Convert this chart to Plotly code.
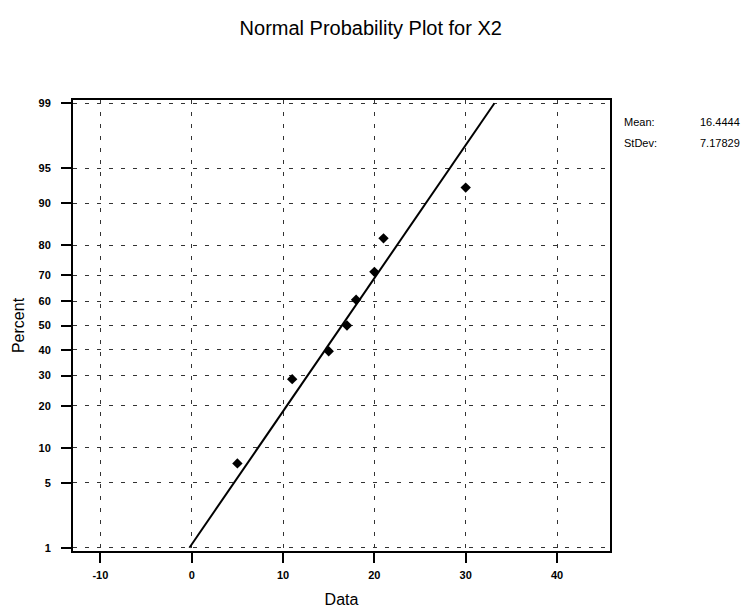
import statistics
import plotly.graph_objects as go

# Data
data_values = [5, 11, 11, 15, 17, 18, 20, 21, 30]
percent_ticks = [1, 5, 10, 20, 30, 40, 50, 60, 70, 80, 90, 95, 99]
x_ticks = [-10, 0, 10, 20, 30, 40]

nd = statistics.NormalDist()
n = len(data_values)
xs = sorted(data_values)
# median ranks, ties plotted at highest rank
pts_x, pts_p = [], []
for i, v in enumerate(xs):
    if i + 1 < n and xs[i + 1] == v:
        continue
    pts_x.append(v)
    pts_p.append((i + 1 - 0.3) / (n + 0.4) * 100)

mean = statistics.mean(data_values)
sd = statistics.stdev(data_values)

def z(p):
    return nd.inv_cdf(p / 100.0)

line_p = [1, 99]
line_x = [mean + sd * z(p) for p in line_p]

fig = go.Figure()
fig.add_trace(go.Scatter(x=line_x, y=[z(p) for p in line_p], mode="lines",
                         line=dict(color="black", width=2), showlegend=False))
fig.add_trace(go.Scatter(x=pts_x, y=[z(p) for p in pts_p], mode="markers",
                         marker=dict(symbol="diamond", color="black", size=8),
                         showlegend=False))

font = "Liberation Sans, Arial, sans-serif"
L, R, T, B = 73, 610, 100, 551
grid_dash = "4px,8px"
fig.update_layout(
    width=746, height=615,
    margin=dict(l=L, r=746 - R, t=T, b=615 - B, autoexpand=False),
    paper_bgcolor="white", plot_bgcolor="white",
    title=dict(text="Normal Probability Plot for X2", x=0.497, xanchor="center",
               y=1 - 28 / 615, yanchor="middle",
               font=dict(family=font, size=20, color="black")),
    font=dict(family=font, color="black"),
    xaxis=dict(range=[-13, 45.8], tickvals=x_ticks, ticktext=[str(t) for t in x_ticks],
               automargin=False,
               showgrid=True, gridcolor="#333", griddash=grid_dash, gridwidth=1,
               zeroline=False, showline=True, linecolor="black", linewidth=2, mirror=True,
               ticks="outside", ticklen=10, tickwidth=2, tickcolor="black",
               ticklabelstandoff=3,
               tickfont=dict(size=11, family=font, color="black", weight="bold"),
               title=dict(text="Data", font=dict(size=16, family=font), standoff=14)),
    yaxis=dict(range=[-2.36, 2.36], tickvals=[z(p) for p in percent_ticks],
               ticktext=[str(p) for p in percent_ticks],
               automargin=False,
               showgrid=True, gridcolor="#333", griddash=grid_dash, gridwidth=1,
               zeroline=False, showline=True, linecolor="black", linewidth=2, mirror=True,
               ticks="outside", ticklen=10, tickwidth=2, tickcolor="black",
               ticklabelstandoff=8,
               tickfont=dict(size=11, family=font, color="black", weight="bold"),
               title=dict(text="Percent", font=dict(size=16, family=font), standoff=10)),
)

stats = [("Mean:", f"{mean:.6g}"), ("StDev:", f"{sd:.6g}")]
for k, (lab, val) in enumerate(stats):
    yy = 122 + 21 * k
    fig.add_annotation(text=lab, xref="paper", yref="paper",
                       x=(622 - L) / (R - L), y=1 - (yy - T) / (B - T),
                       xanchor="left", yanchor="middle", showarrow=False,
                       font=dict(size=11, family=font, color="black"))
    fig.add_annotation(text=val, xref="paper", yref="paper",
                       x=(742 - L) / (R - L), y=1 - (yy - T) / (B - T),
                       xanchor="right", yanchor="middle", showarrow=False,
                       font=dict(size=11, family=font, color="black"))

fig.write_html("out.html", config={"displayModeBar": False},
               post_script="document.body.style.margin='0';")
